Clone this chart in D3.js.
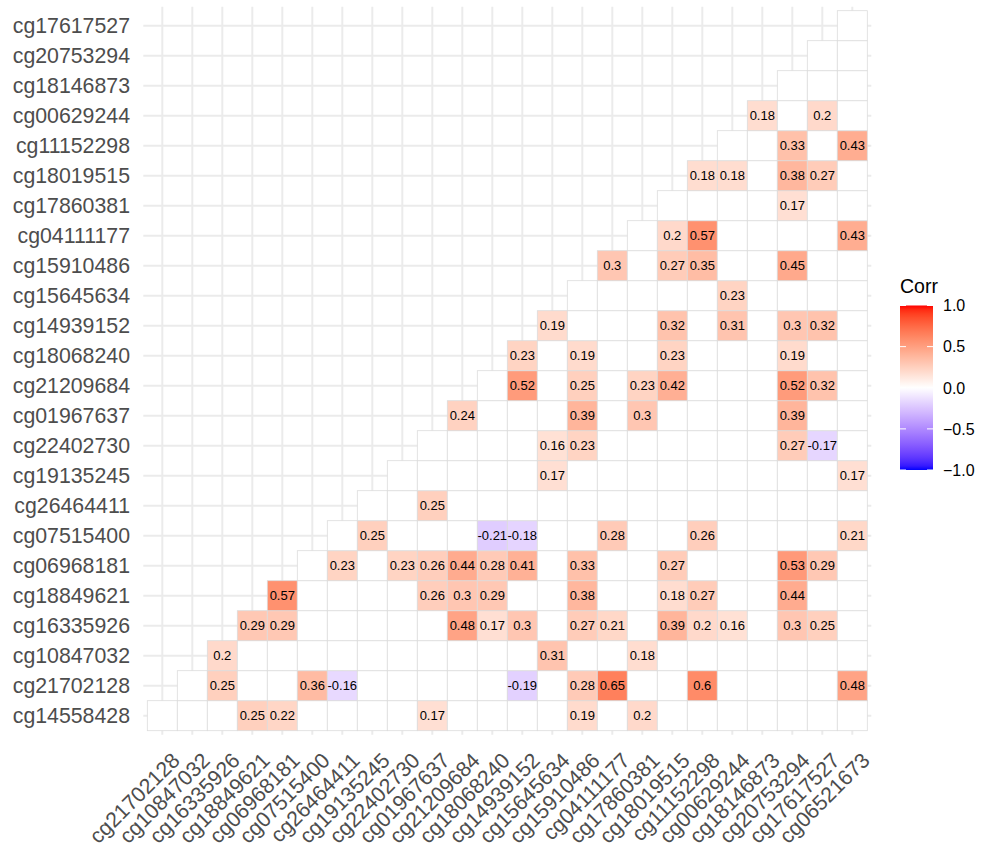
<!DOCTYPE html>
<html lang="en">

<head>
    <meta charset="UTF-8">
    <title>Corr</title>
    <script src="https://cdnjs.cloudflare.com/ajax/libs/d3/7.8.5/d3.min.js"></script>
    <style>
        body { margin: 0; background: #fff; }
        text { font-family: "Liberation Sans", Arial, sans-serif; }
    </style>
</head>

<body>
    <div id="chart"></div>
    <script>
        // x axis, left to right
        var xVars = ["cg21702128", "cg10847032", "cg16335926", "cg18849621", "cg06968181", "cg07515400",
            "cg26464411", "cg19135245", "cg22402730", "cg01967637", "cg21209684", "cg18068240",
            "cg14939152", "cg15645634", "cg15910486", "cg04111177", "cg17860381", "cg18019515",
            "cg11152298", "cg00629244", "cg18146873", "cg20753294", "cg17617527", "cg06521673"];
        // y axis, bottom to top
        var yVars = ["cg14558428", "cg21702128", "cg10847032", "cg16335926", "cg18849621", "cg06968181",
            "cg07515400", "cg26464411", "cg19135245", "cg22402730", "cg01967637", "cg21209684",
            "cg18068240", "cg14939152", "cg15645634", "cg15910486", "cg04111177", "cg17860381",
            "cg18019515", "cg11152298", "cg00629244", "cg18146873", "cg20753294", "cg17617527"];
        var legendBreaks = [-1, -0.5, 0, 0.5, 1];

        // significant cells only: [row, column, corr]
        var corrCells = [
            ["cg00629244", "cg18146873", 0.18], ["cg00629244", "cg17617527", 0.2],
            ["cg11152298", "cg20753294", 0.33], ["cg11152298", "cg06521673", 0.43],
            ["cg18019515", "cg11152298", 0.18], ["cg18019515", "cg00629244", 0.18],
            ["cg18019515", "cg20753294", 0.38], ["cg18019515", "cg17617527", 0.27],
            ["cg17860381", "cg20753294", 0.17],
            ["cg04111177", "cg18019515", 0.2], ["cg04111177", "cg11152298", 0.57],
            ["cg04111177", "cg06521673", 0.43],
            ["cg15910486", "cg04111177", 0.3], ["cg15910486", "cg18019515", 0.27],
            ["cg15910486", "cg11152298", 0.35], ["cg15910486", "cg20753294", 0.45],
            ["cg15645634", "cg00629244", 0.23],
            ["cg14939152", "cg15645634", 0.19], ["cg14939152", "cg18019515", 0.32],
            ["cg14939152", "cg00629244", 0.31], ["cg14939152", "cg20753294", 0.3],
            ["cg14939152", "cg17617527", 0.32],
            ["cg18068240", "cg14939152", 0.23], ["cg18068240", "cg15910486", 0.19],
            ["cg18068240", "cg18019515", 0.23], ["cg18068240", "cg20753294", 0.19],
            ["cg21209684", "cg14939152", 0.52], ["cg21209684", "cg15910486", 0.25],
            ["cg21209684", "cg17860381", 0.23], ["cg21209684", "cg18019515", 0.42],
            ["cg21209684", "cg20753294", 0.52], ["cg21209684", "cg17617527", 0.32],
            ["cg01967637", "cg21209684", 0.24], ["cg01967637", "cg15910486", 0.39],
            ["cg01967637", "cg17860381", 0.3], ["cg01967637", "cg20753294", 0.39],
            ["cg22402730", "cg15645634", 0.16], ["cg22402730", "cg15910486", 0.23],
            ["cg22402730", "cg20753294", 0.27], ["cg22402730", "cg17617527", -0.17],
            ["cg19135245", "cg15645634", 0.17], ["cg19135245", "cg06521673", 0.17],
            ["cg26464411", "cg01967637", 0.25],
            ["cg07515400", "cg19135245", 0.25], ["cg07515400", "cg18068240", -0.21],
            ["cg07515400", "cg14939152", -0.18], ["cg07515400", "cg04111177", 0.28],
            ["cg07515400", "cg11152298", 0.26], ["cg07515400", "cg06521673", 0.21],
            ["cg06968181", "cg26464411", 0.23], ["cg06968181", "cg22402730", 0.23],
            ["cg06968181", "cg01967637", 0.26], ["cg06968181", "cg21209684", 0.44],
            ["cg06968181", "cg18068240", 0.28], ["cg06968181", "cg14939152", 0.41],
            ["cg06968181", "cg15910486", 0.33], ["cg06968181", "cg18019515", 0.27],
            ["cg06968181", "cg20753294", 0.53], ["cg06968181", "cg17617527", 0.29],
            ["cg18849621", "cg06968181", 0.57], ["cg18849621", "cg01967637", 0.26],
            ["cg18849621", "cg21209684", 0.3], ["cg18849621", "cg18068240", 0.29],
            ["cg18849621", "cg15910486", 0.38], ["cg18849621", "cg18019515", 0.18],
            ["cg18849621", "cg11152298", 0.27], ["cg18849621", "cg20753294", 0.44],
            ["cg16335926", "cg18849621", 0.29], ["cg16335926", "cg06968181", 0.29],
            ["cg16335926", "cg21209684", 0.48], ["cg16335926", "cg18068240", 0.17],
            ["cg16335926", "cg14939152", 0.3], ["cg16335926", "cg15910486", 0.27],
            ["cg16335926", "cg04111177", 0.21], ["cg16335926", "cg18019515", 0.39],
            ["cg16335926", "cg11152298", 0.2], ["cg16335926", "cg00629244", 0.16],
            ["cg16335926", "cg20753294", 0.3], ["cg16335926", "cg17617527", 0.25],
            ["cg10847032", "cg16335926", 0.2], ["cg10847032", "cg15645634", 0.31],
            ["cg10847032", "cg17860381", 0.18],
            ["cg21702128", "cg16335926", 0.25], ["cg21702128", "cg07515400", 0.36],
            ["cg21702128", "cg26464411", -0.16], ["cg21702128", "cg14939152", -0.19],
            ["cg21702128", "cg15910486", 0.28], ["cg21702128", "cg04111177", 0.65],
            ["cg21702128", "cg11152298", 0.6], ["cg21702128", "cg06521673", 0.48],
            ["cg14558428", "cg18849621", 0.25], ["cg14558428", "cg06968181", 0.22],
            ["cg14558428", "cg01967637", 0.17], ["cg14558428", "cg15910486", 0.19],
            ["cg14558428", "cg17860381", 0.2]
        ];

        var W = 984, H = 843;
        var pLeft = 147.3, pRight = 867.3, pTop = 10.7, pBottom = 730.7;

        var svg = d3.select("#chart").append("svg")
            .attr("width", W)
            .attr("height", H);

        var x = d3.scaleBand().domain(xVars).range([pLeft, pRight]);
        var y = d3.scaleBand().domain(yVars).range([pBottom, pTop]);

        // ggplot2 gradient2: blue - white - red, Lab interpolation
        var fill = function (v) {
            if (v == null) return "#ffffff";
            return v >= 0 ? d3.interpolateLab("#ffffff", "#ff0000")(v)
                : d3.interpolateLab("#ffffff", "#0000ff")(-v);
        };

        // lookup of significant values
        var sig = {};
        corrCells.forEach(c => { sig[c[0] + "|" + c[1]] = c[2]; });

        // lower triangle: row r (from bottom) holds columns r..end
        var tiles = [];
        yVars.forEach((yv, r) => {
            xVars.forEach((xv, k) => {
                if (k >= r) tiles.push({ x: xv, y: yv, value: sig[yv + "|" + xv] });
            });
        });

        // panel grid
        var grid = svg.append("g");
        grid.selectAll("line.v")
            .data(xVars).enter().append("line")
            .attr("x1", d => x(d) + x.bandwidth() / 2)
            .attr("x2", d => x(d) + x.bandwidth() / 2)
            .attr("y1", pTop - 4).attr("y2", pBottom + 4)
            .attr("stroke", "#ebebeb").attr("stroke-width", 2);
        grid.selectAll("line.h")
            .data(yVars).enter().append("line")
            .attr("y1", d => y(d) + y.bandwidth() / 2)
            .attr("y2", d => y(d) + y.bandwidth() / 2)
            .attr("x1", pLeft - 4).attr("x2", pRight + 4)
            .attr("stroke", "#ebebeb").attr("stroke-width", 2);

        // tiles
        svg.append("g").selectAll("rect")
            .data(tiles).enter().append("rect")
            .attr("x", d => x(d.x))
            .attr("y", d => y(d.y))
            .attr("width", x.bandwidth())
            .attr("height", y.bandwidth())
            .attr("fill", d => fill(d.value))
            .attr("stroke", "#dcdcdc")
            .attr("stroke-width", 0.8);

        // values
        svg.append("g").selectAll("text")
            .data(tiles.filter(d => d.value != null)).enter().append("text")
            .attr("x", d => x(d.x) + x.bandwidth() / 2)
            .attr("y", d => y(d.y) + y.bandwidth() / 2)
            .attr("text-anchor", "middle")
            .attr("dy", "0.36em")
            .attr("font-size", 13)
            .attr("fill", "#000")
            .text(d => String(d.value));

        // y axis labels
        svg.append("g").selectAll("text")
            .data(yVars).enter().append("text")
            .attr("x", 130)
            .attr("y", d => y(d) + y.bandwidth() / 2)
            .attr("dy", "0.36em")
            .attr("text-anchor", "end")
            .attr("font-size", 21.3)
            .attr("fill", "#4d4d4d")
            .text(d => d);

        // x axis labels, 45 degrees
        svg.append("g").selectAll("text")
            .data(xVars).enter().append("text")
            .attr("transform", d => "translate(" + (x(d) + x.bandwidth() / 2 + 8) + ",751) rotate(-45)")
            .attr("dy", "0.72em")
            .attr("text-anchor", "end")
            .attr("font-size", 21.3)
            .attr("fill", "#4d4d4d")
            .text(d => d);

        // legend
        var lx = 900, lw = 33, ly0 = 305.5, ly1 = 470;
        var ly = d3.scaleLinear().domain([-1, 1]).range([ly1, ly0]);
        var defs = svg.append("defs");
        var grad = defs.append("linearGradient")
            .attr("id", "corrGrad")
            .attr("x1", 0).attr("y1", 1).attr("x2", 0).attr("y2", 0);
        d3.range(-1, 1.0001, 0.05).forEach(v => {
            grad.append("stop")
                .attr("offset", (v + 1) / 2)
                .attr("stop-color", fill(v));
        });
        var legend = svg.append("g");
        legend.append("text")
            .attr("x", lx).attr("y", 293)
            .attr("font-size", 19.5)
            .attr("fill", "#000")
            .text("Corr");
        legend.append("rect")
            .attr("x", lx).attr("y", ly0)
            .attr("width", lw).attr("height", ly1 - ly0)
            .attr("fill", "url(#corrGrad)");
        legend.selectAll("line.tl")
            .data(legendBreaks).enter().append("line")
            .attr("x1", lx).attr("x2", lx + 6)
            .attr("y1", d => ly(d)).attr("y2", d => ly(d))
            .attr("stroke", "#fff").attr("stroke-width", 1);
        legend.selectAll("line.tr")
            .data(legendBreaks).enter().append("line")
            .attr("x1", lx + lw - 6).attr("x2", lx + lw)
            .attr("y1", d => ly(d)).attr("y2", d => ly(d))
            .attr("stroke", "#fff").attr("stroke-width", 1);
        legend.selectAll("text.lab")
            .data(legendBreaks).enter().append("text")
            .attr("x", 943)
            .attr("y", d => ly(d))
            .attr("dy", "0.36em")
            .attr("font-size", 16)
            .attr("fill", "#000")
            .text(d => d3.format(".1f")(d));
    </script>
</body>

</html>
